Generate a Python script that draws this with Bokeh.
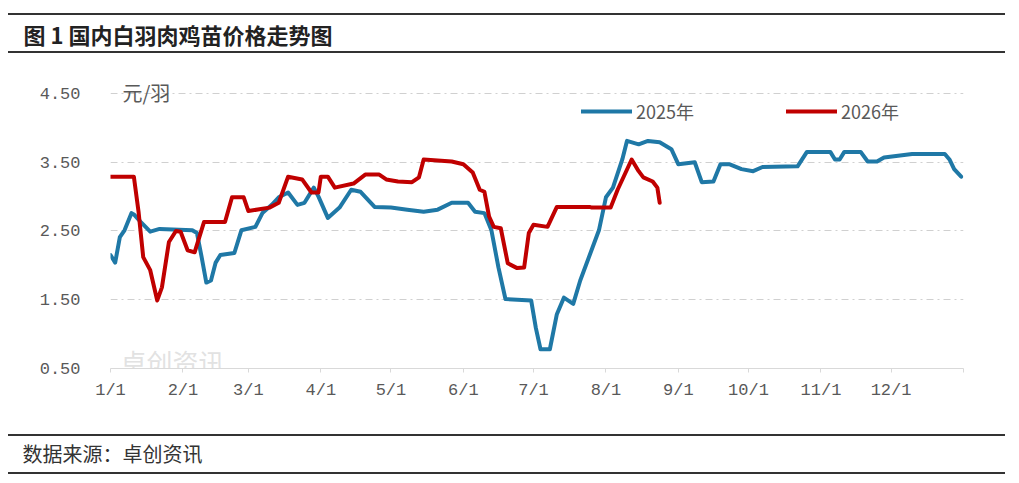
import pandas as pd
from bokeh.plotting import figure
from bokeh.models import (FixedTicker, Legend, LegendItem, Label, Range1d,
                          NumeralTickFormatter, Spacer)
from bokeh.layouts import column
from bokeh.embed import file_html
from bokeh.resources import INLINE

# ---------------- texts ----------------
title_text = "图 1 国内白羽肉鸡苗价格走势图"
source_text = "数据来源：卓创资讯"
unit_text = "元/羽"
watermark_cn = "卓创资讯"
series_names = ["2025年", "2026年"]

# ---------------- axis ticks ----------------
month_tick_dates = ["01-01", "02-01", "03-01", "04-01", "05-01", "06-01",
                    "07-01", "08-01", "09-01", "10-01", "11-01", "12-01"]
month_tick_labels = ["1/1", "2/1", "3/1", "4/1", "5/1", "6/1",
                     "7/1", "8/1", "9/1", "10/1", "11/1", "12/1"]
y_ticks = [0.5, 1.5, 2.5, 3.5, 4.5]

# ---------------- data (month-day, price 元/羽) ----------------
dates_2025 = ["01-01", "01-03", "01-05", "01-07", "01-10", "01-11", "01-14", "01-18",
              "01-22", "02-05", "02-07", "02-09", "02-11", "02-13", "02-15", "02-17",
              "02-23", "02-26", "03-04", "03-07", "03-11", "03-14", "03-18", "03-22",
              "03-25", "03-29", "03-31", "04-04", "04-09", "04-14", "04-18", "04-24",
              "05-01", "05-08", "05-15", "05-21", "05-27", "06-03", "06-06", "06-10",
              "06-13", "06-16", "06-19", "06-30", "07-02", "07-04", "07-08", "07-11",
              "07-14", "07-18", "07-21", "07-29", "08-01", "08-04", "08-08", "08-10",
              "08-15", "08-19", "08-24", "08-29", "09-01", "09-08", "09-11", "09-16",
              "09-19", "09-23", "09-28", "10-03", "10-07", "10-22", "10-26", "11-05",
              "11-07", "11-09", "11-11", "11-18", "11-21", "11-25", "11-28", "12-10",
              "12-24", "12-26", "12-28", "12-31"]
price_2025 = [2.15, 2.04, 2.41, 2.51, 2.76, 2.74, 2.63, 2.49,
              2.53, 2.51, 2.47, 2.12, 1.75, 1.78, 2.04, 2.15,
              2.18, 2.51, 2.56, 2.76, 2.88, 2.99, 3.06, 2.88,
              2.91, 3.13, 3.00, 2.69, 2.84, 3.10, 3.07, 2.85,
              2.84, 2.81, 2.78, 2.81, 2.91, 2.91, 2.78, 2.76,
              2.51, 1.97, 1.51, 1.49, 1.09, 0.78, 0.78, 1.29,
              1.53, 1.44, 1.78, 2.51, 2.99, 3.13, 3.54, 3.81,
              3.76, 3.81, 3.79, 3.69, 3.47, 3.50, 3.21, 3.22,
              3.47, 3.47, 3.40, 3.37, 3.43, 3.44, 3.65, 3.65,
              3.54, 3.54, 3.65, 3.65, 3.51, 3.51, 3.57, 3.62,
              3.62, 3.54, 3.40, 3.29]

dates_2026 = ["01-01", "01-11", "01-13", "01-15", "01-18", "01-21", "01-23", "01-26",
              "01-29", "01-31", "02-03", "02-06", "02-10", "02-19", "02-22", "02-27",
              "03-01", "03-10", "03-14", "03-18", "03-24", "03-28", "03-31", "04-01",
              "04-04", "04-07", "04-15", "04-20", "04-26", "04-29", "05-04", "05-10",
              "05-13", "05-15", "05-27", "06-01", "06-05", "06-08", "06-10", "06-12",
              "06-14", "06-17", "06-20", "06-24", "06-27", "06-29", "07-01", "07-07",
              "07-11", "07-25", "07-26", "08-03", "08-06", "08-12", "08-15", "08-17",
              "08-21", "08-23", "08-24"]
price_2026 = [3.29, 3.29, 2.78, 2.12, 1.93, 1.49, 1.68, 2.34,
              2.50, 2.49, 2.22, 2.19, 2.63, 2.63, 2.99, 2.99,
              2.79, 2.84, 2.91, 3.29, 3.25, 3.06, 3.06, 3.29,
              3.29, 3.13, 3.19, 3.32, 3.32, 3.25, 3.22, 3.21,
              3.28, 3.54, 3.51, 3.47, 3.35, 3.10, 3.07, 2.71,
              2.56, 2.54, 2.03, 1.96, 1.97, 2.47, 2.59, 2.56,
              2.85, 2.85, 2.84, 2.84, 3.10, 3.54, 3.37, 3.28,
              3.22, 3.13, 2.91]


def day_of_year(md):
    return pd.Timestamp("2025-" + md).dayofyear - 1


x_2025 = [day_of_year(d) for d in dates_2025]
x_2026 = [day_of_year(d) for d in dates_2026]
tick_pos = [day_of_year(d) for d in month_tick_dates]
year_end = day_of_year("12-31") + 1

BLUE = "#1f78a6"
RED = "#c00000"
GREY_TXT = "#595959"
RULE = "#333333"
W = 1019
LEFT, RIGHT = 110, 56


def rule():
    return Spacer(width=997, height=2,
                  styles={"background-color": RULE, "margin-left": "8px"})


def text_strip(text, height, top, size, bold, start):
    s = figure(width=W, height=height, x_axis_type=None, y_axis_type=None,
               toolbar_location=None, output_backend="svg",
               min_border_left=LEFT, min_border_right=RIGHT,
               min_border_top=top, min_border_bottom=0, title=text)
    s.grid.visible = False
    s.outline_line_color = None
    s.title.align = "left"
    s.title.offset = start - LEFT
    s.title.standoff = 0
    s.title.text_font = "Noto Sans CJK SC"
    s.title.text_font_size = size
    s.title.text_font_style = "bold" if bold else "normal"
    s.title.text_color = "#222222" if bold else "#333333"
    return s


# ---------------- main chart ----------------
p = figure(width=W, height=381, x_range=Range1d(0, year_end),
           y_range=Range1d(0.5, 4.645), toolbar_location=None,
           output_backend="svg", min_border_left=LEFT, min_border_right=RIGHT,
           min_border_top=30, min_border_bottom=66)
p.outline_line_color = None
p.background_fill_color = "white"
p.border_fill_color = "white"

p.xgrid.visible = False
p.ygrid.ticker = FixedTicker(ticks=y_ticks)
p.ygrid.grid_line_color = "#d0d0d0"
p.ygrid.grid_line_dash = "7 4 2 4"
p.ygrid.grid_line_width = 1

xa = p.xaxis[0]
xa.ticker = FixedTicker(ticks=tick_pos + [year_end])
xa.major_label_overrides = {pos: lab for pos, lab in zip(tick_pos, month_tick_labels)}
xa.major_label_overrides[year_end] = ""
xa.axis_line_color = "#d9d9d9"
xa.major_tick_line_color = "#d9d9d9"
xa.major_tick_out = 4
xa.major_tick_in = 0
xa.minor_tick_line_color = None
xa.major_label_standoff = 8
xa.major_label_text_font = "Liberation Mono"
xa.major_label_text_font_size = "17px"
xa.major_label_text_color = GREY_TXT

ya = p.yaxis[0]
ya.ticker = FixedTicker(ticks=y_ticks)
ya.formatter = NumeralTickFormatter(format="0.00")
ya.axis_line_color = None
ya.major_tick_line_color = None
ya.minor_tick_line_color = None
ya.major_label_standoff = 24
ya.major_label_text_font = "Liberation Mono"
ya.major_label_text_font_size = "17px"
ya.major_label_text_color = GREY_TXT

# watermark (drawn under the lines)
p.add_layout(Label(x=10, y=7, x_units="screen", y_units="screen", text=watermark_cn,
                   text_font="Noto Sans CJK SC", text_font_size="26px",
                   text_color="#dadada", text_alpha=0.8, text_baseline="middle",
                   level="underlay"))

r25 = p.line(x_2025, price_2025, line_color=BLUE, line_width=4, line_join="round",
             line_cap="round")
r26 = p.line(x_2026, price_2026, line_color=RED, line_width=4, line_join="round",
             line_cap="round")

for rend, name, loc in [(r25, series_names[0], (471, 244)),
                        (r26, series_names[1], (676, 244))]:
    lg = Legend(items=[LegendItem(label=name, renderers=[rend])], location=loc,
                padding=0, margin=0, border_line_color=None,
                background_fill_alpha=0, glyph_width=51, glyph_height=22,
                label_height=22, label_standoff=4,
                label_text_font="Noto Sans CJK SC", label_text_font_size="18px",
                label_text_color=GREY_TXT)
    p.add_layout(lg)

p.add_layout(Label(x=12, y=276, x_units="screen", y_units="screen", text=unit_text,
                   text_font="Noto Sans CJK SC", text_font_size="20px",
                   text_color=GREY_TXT, text_baseline="middle"))

title_strip = text_strip(title_text, 36, 4, "22px", True, 23)
footer_strip = text_strip(source_text, 36, 6, "20px", False, 22)

layout = column(Spacer(width=W, height=13), rule(), title_strip, rule(),
                p, rule(), footer_strip, rule(), spacing=0)
open("out.html", "w").write(file_html(layout, INLINE))
